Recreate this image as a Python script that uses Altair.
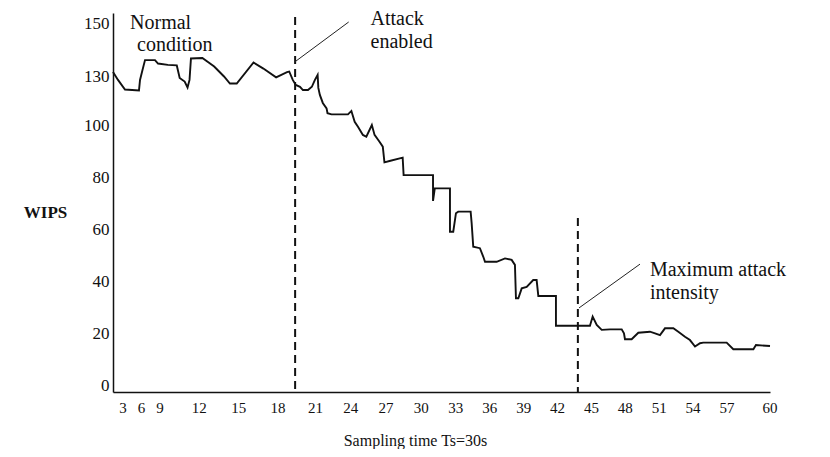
import altair as alt
import pandas as pd

# Sampling time index (Ts = 30 s) and WIPS values
t = [1.5, 2.25, 3.32, 5.59, 5.76, 6.16, 6.57, 8.19, 8.68, 9.6, 10.28, 10.5, 10.88, 11.1, 11.25,
     11.36, 12.23, 13.13, 13.88, 14.33, 14.85, 16.13, 16.88, 17.85, 18.68, 18.85, 19.12, 19.35,
     19.69, 19.94, 20.37, 20.70, 20.96, 21.19, 21.25, 21.38, 21.63, 21.95, 22.03, 22.37, 23.77,
     24.06, 24.34, 24.62, 25.04, 25.33, 25.80, 26.03, 26.45, 26.73, 26.87, 27.30, 28.42, 28.50,
     31.0, 31.0, 31.15, 32.48, 32.48, 32.77, 33.01, 33.21, 34.31, 34.40, 34.54, 35.13, 35.43,
     35.58, 36.61, 37.35, 37.94, 38.23, 38.32, 38.53, 38.83, 39.27, 39.85, 40.15, 40.30, 41.86,
     41.86, 44.87, 45.11, 45.47, 45.91, 46.64, 47.68, 47.88, 47.97, 48.56, 49.15, 50.18, 50.63,
     51.07, 51.51, 52.25, 52.69, 53.28, 53.72, 54.17, 54.61, 54.90, 56.97, 57.44, 58.84, 59.02, 60.0]
wips = [131.5, 127.6, 121.7, 121.1, 127.6, 132.3, 136.0, 136.0, 134.7, 134.2, 134.0, 128.8, 126.6,
        123.0, 127.6, 136.6, 136.8, 133.6, 129.7, 125.4, 125.4, 135.1, 132.8, 129.2, 131.5, 131.7,
        127.6, 124.5, 123.4, 121.4, 121.4, 123.4, 127.6, 130.4, 122.7, 118.4, 113.5, 110.2, 107.2,
        106.5, 106.5, 108.6, 102.0, 99.3, 96.2, 95.5, 100.0, 96.2, 93.6, 91.7, 85.7, 86.2, 87.5,
        80.8, 80.8, 70.9, 75.7, 75.7, 59.1, 59.1, 66.2, 66.8, 66.8, 62.3, 53.4, 52.8, 49.5, 47.6,
        47.6, 48.9, 48.3, 46.4, 33.6, 33.6, 37.4, 38.0, 40.6, 40.6, 34.5, 34.5, 23.1, 23.1, 26.6,
        23.4, 21.5, 21.7, 21.7, 20.2, 17.9, 17.9, 20.4, 20.8, 20.2, 19.5, 22.1, 22.1, 20.8, 18.9,
        17.6, 15.1, 16.4, 16.6, 16.6, 14.1, 14.1, 15.7, 15.3]

x_ticks = [3, 6, 9, 12, 15, 18, 21, 24, 27, 30, 33, 36, 39, 42, 45, 48, 51, 54, 57, 60]
y_ticks = [0, 20, 40, 60, 80, 100, 130, 150]

# event markers (dashed lines)
ev_x = [19.3, 43.8]
ev_top = [152.3, 64.4]

# annotation texts
ann_text = ["Normal", "condition", "Attack", "enabled", "Maximum attack", "intensity"]
ann_x = [4.14, 5.27, 25.69, 25.69, 50.18, 50.18]
ann_y = [150.0, 141.7, 151.5, 142.8, 44.4, 35.6]

# leader lines
lead_x = [19.27, 43.9]
lead_x2 = [23.83, 49.3]
lead_y = [135.3, 29.9]
lead_y2 = [150.4, 46.7]

W, H = 657, 379
FONT = "Liberation Serif"

xscale = alt.Scale(domain=[1.5, 3, 9, 19.5, 31.5, 57, 60],
                   range=[0, 10, 47, 184.75, 325.9, 614, 657], zero=False, nice=False)
yscale = alt.Scale(domain=[-2.3, 100, 130, 153.8],
                   range=[379, 112, 63, 0], zero=False, nice=False)

x_axis = alt.Axis(values=x_ticks, tickCount=40, labels=False, title="Sampling time Ts=30s",
                  titleX=302, titleY=48, titleBaseline="middle")
y_axis = alt.Axis(values=y_ticks, tickCount=20, title="WIPS", titleAngle=0, titleX=-68, titleY=199,
                  titleAlign="center", titleBaseline="middle", titleFontWeight="bold",
                  titleFontSize=17, labelFlush=False, labelOverlap=False)

df = pd.DataFrame({"t": t, "wips": wips, "i": list(range(len(t)))})

line = alt.Chart(df).mark_line(color="#111111", strokeWidth=1.9).encode(
    x=alt.X("t:Q", scale=xscale, axis=x_axis),
    y=alt.Y("wips:Q", scale=yscale, axis=y_axis),
    order="i:Q",
)

ev_df = pd.DataFrame({"t": ev_x, "wips": ev_top, "bot": [-2.3, -2.3]})
rules = alt.Chart(ev_df).mark_rule(color="#111111", strokeWidth=2, strokeDash=[8, 5]).encode(
    x=alt.X("t:Q", scale=xscale, axis=x_axis),
    y=alt.Y("wips:Q", scale=yscale, axis=y_axis), y2="bot:Q")

lead_df = pd.DataFrame({"t": lead_x, "x2": lead_x2, "wips": lead_y, "y2": lead_y2})
leads = alt.Chart(lead_df).mark_rule(color="#222222", strokeWidth=1).encode(
    x=alt.X("t:Q", scale=xscale, axis=x_axis), x2="x2:Q",
    y=alt.Y("wips:Q", scale=yscale, axis=y_axis), y2="y2:Q")

ann_df = pd.DataFrame({"text": ann_text, "t": ann_x, "wips": ann_y})
texts = alt.Chart(ann_df).mark_text(font=FONT, fontSize=20, align="left", baseline="middle",
                                    color="#111111").encode(
    x=alt.X("t:Q", scale=xscale, axis=x_axis),
    y=alt.Y("wips:Q", scale=yscale, axis=y_axis),
    text="text:N")

# x tick labels drawn through the x scale
tick_df = pd.DataFrame({"t": x_ticks, "label": [str(v) for v in x_ticks]})
xlabels = alt.Chart(tick_df).mark_text(font=FONT, fontSize=15, align="center", baseline="middle",
                                       color="#111111").encode(
    x=alt.X("t:Q", scale=xscale, axis=x_axis),
    y=alt.value(H + 16),
    text="label:N")

chart = alt.layer(line, rules, leads, texts, xlabels).properties(
    width=W, height=H,
    autosize=alt.AutoSizeParams(type="none"),
    padding={"left": 105, "top": 5, "right": 52, "bottom": 57},
    background="white",
).configure_view(stroke=None).configure_axis(
    grid=False, ticks=False, domainColor="#111111", domainWidth=1.5,
    labelFont=FONT, titleFont=FONT, labelColor="#111111", titleColor="#111111",
    titleFontWeight="normal",
).configure_axisY(labelFontSize=17, labelPadding=4).configure_axisX(titleFontSize=16)

chart.save("out.html", embed_options={"renderer": "svg", "actions": False})
